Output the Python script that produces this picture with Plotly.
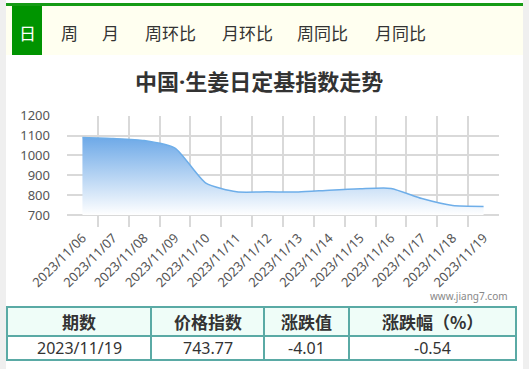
import plotly.graph_objects as go

W, H = 529, 369

dates = ["2023/11/06", "2023/11/07", "2023/11/08", "2023/11/09", "2023/11/10",
         "2023/11/11", "2023/11/12", "2023/11/13", "2023/11/14", "2023/11/15",
         "2023/11/16", "2023/11/17", "2023/11/18", "2023/11/19"]
values = [1090, 1085, 1075, 1037, 861, 817, 817, 816, 825, 832, 834, 783, 747.78, 743.77]
base_level = [700] * len(dates)
y_ticks = [700, 800, 900, 1000, 1100, 1200]

tabs = ["日", "周", "月", "周环比", "月环比", "周同比", "月同比"]
tab_centers = [27, 69, 110, 170, 247, 323, 400]

table_header = ["期数", "价格指数", "涨跌值", "涨跌幅（%）"]
table_row = ["2023/11/19", "743.77", "-4.01", "-0.54"]
col_widths = [144, 113, 85, 167]

FONT = "Noto Sans CJK SC, Noto Sans, sans-serif"
NUMFONT = "Noto Sans, sans-serif"
BORDER = "#5aaaa5"


def px(x):
    return x / W


def py(y):
    return 1 - y / H


fig = go.Figure()

fig.add_trace(go.Scatter(x=dates, y=base_level, mode="lines",
                         line=dict(width=0), hoverinfo="skip", showlegend=False))
fig.add_trace(go.Scatter(
    x=dates, y=values, mode="lines", fill="tonexty",
    line=dict(color="#6eaee9", width=1.5, shape="spline", smoothing=0.6),
    fillgradient=dict(type="vertical", start=700, stop=1100,
                      colorscale=[[0, "rgba(255,255,255,1)"], [1, "#6aa7e7"]]),
    showlegend=False))

shapes = [
    dict(type="rect", xref="paper", yref="paper", x0=0, x1=px(6), y0=0, y1=1,
         fillcolor="#efefef", line_width=0, layer="below"),
    dict(type="rect", xref="paper", yref="paper", x0=px(523), x1=1, y0=0, y1=1,
         fillcolor="#efefef", line_width=0, layer="below"),
    dict(type="rect", xref="paper", yref="paper", x0=px(6), x1=px(523), y0=py(55), y1=py(6),
         fillcolor="#fffff0", line_width=0, layer="below"),
    dict(type="rect", xref="paper", yref="paper", x0=px(6), x1=px(523), y0=py(6), y1=py(3),
         fillcolor="#169b16", line_width=0, layer="below"),
    dict(type="rect", xref="paper", yref="paper", x0=px(12), x1=px(42), y0=py(55), y1=py(6),
         fillcolor="#009400", line_width=0, layer="below"),
]

annotations = []
for i, (t, c) in enumerate(zip(tabs, tab_centers)):
    annotations.append(dict(text=t, x=px(c), y=py(32), xref="paper", yref="paper",
                            showarrow=False, xanchor="center", yanchor="middle",
                            font=dict(family=FONT, size=17,
                                      color="white" if i == 0 else "#333333")))
annotations.append(dict(
    text='<b>中国<span style="font-family:Noto Sans">·</span>生姜日定基指数走势</b>',
    x=px(259), y=py(80), xref="paper", yref="paper", showarrow=False,
    xanchor="center", yanchor="middle",
    font=dict(family=FONT, size=22, color="#333333")))
annotations.append(dict(text="www.jiang7.com", x=px(510), y=py(296),
                        xref="paper", yref="paper", showarrow=False,
                        xanchor="right", yanchor="middle",
                        font=dict(family=NUMFONT, size=10, color="#888888")))

# table drawn from the header / row lists
t_left, t_top, t_mid, t_bot = 7, 307, 336, 360
edges = [t_left]
for w in col_widths:
    edges.append(edges[-1] + w)
shapes.append(dict(type="rect", xref="paper", yref="paper", x0=px(t_left), x1=px(edges[-1]),
                   y0=py(t_mid), y1=py(t_top), fillcolor="#effdf8", line_width=0, layer="below"))
shapes.append(dict(type="rect", xref="paper", yref="paper", x0=px(t_left), x1=px(edges[-1]),
                   y0=py(t_bot), y1=py(t_top), line=dict(color=BORDER, width=2)))
shapes.append(dict(type="line", xref="paper", yref="paper", x0=px(t_left), x1=px(edges[-1]),
                   y0=py(t_mid), y1=py(t_mid), line=dict(color=BORDER, width=2)))
for e in edges[1:-1]:
    shapes.append(dict(type="line", xref="paper", yref="paper", x0=px(e), x1=px(e),
                       y0=py(t_bot), y1=py(t_top), line=dict(color=BORDER, width=2)))
for i in range(len(col_widths)):
    cx = (edges[i] + edges[i + 1]) / 2
    annotations.append(dict(text="<b>%s</b>" % table_header[i], x=px(cx), y=py((t_top + t_mid) / 2),
                            xref="paper", yref="paper", showarrow=False,
                            xanchor="center", yanchor="middle",
                            font=dict(family=FONT, size=17, color="#333333")))
    annotations.append(dict(text=table_row[i], x=px(cx), y=py((t_mid + t_bot) / 2),
                            xref="paper", yref="paper", showarrow=False,
                            xanchor="center", yanchor="middle",
                            font=dict(family=NUMFONT, size=16, color="#333333")))

fig.update_layout(
    width=W, height=H, margin=dict(l=0, r=0, t=0, b=0, autoexpand=False),
    paper_bgcolor="white", plot_bgcolor="white",
    shapes=shapes, annotations=annotations,
    xaxis=dict(domain=[px(67), px(499)], type="category", tickson="boundaries",
               automargin=False,
               range=[-0.5, 13.5], showgrid=True, gridcolor="#d9d9d9", gridwidth=1.5,
               tickangle=-45, ticks="", showline=False, zeroline=False,
               tickfont=dict(family=NUMFONT, size=13, color="#555555")),
    yaxis=dict(domain=[py(227), py(115.5)], range=[640, 1201], tickvals=y_ticks,
               automargin=False,
               showgrid=True, gridcolor="#d9d9d9", gridwidth=1.5, zeroline=False,
               showline=False, ticklabelstandoff=16,
               tickfont=dict(family=NUMFONT, size=13, color="#555555")),
)

fig.write_html("out.html")
